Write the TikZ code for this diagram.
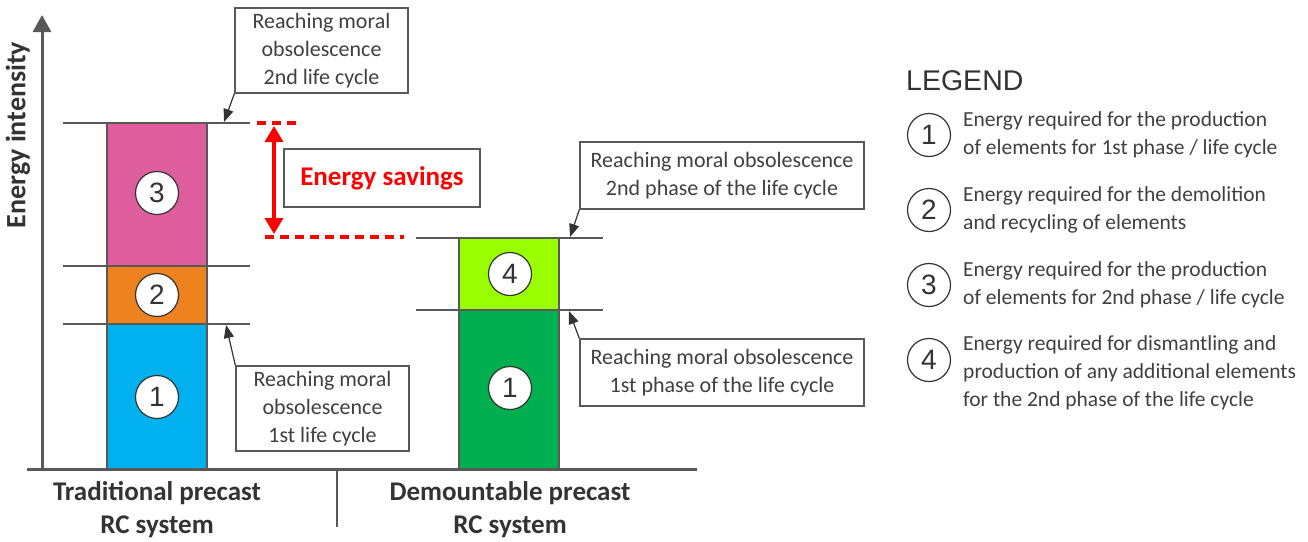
\documentclass[tikz,border=0pt]{standalone}
\usepackage{fontspec}
\setmainfont{Carlito}
\newfontfamily\arialf{Liberation Sans}
\usetikzlibrary{arrows.meta}
\definecolor{txt}{HTML}{404040}
\definecolor{dk}{HTML}{333333}
\definecolor{ln}{HTML}{595959}
\definecolor{pinkc}{HTML}{DE5D9D}
\definecolor{orangec}{HTML}{EE821F}
\definecolor{bluec}{HTML}{00B0EF}
\definecolor{lgreen}{HTML}{99FF00}
\definecolor{dgreen}{HTML}{00B050}
\definecolor{redc}{HTML}{FF0000}
\tikzset{
  num/.style={circle,draw=dk,line width=1.2pt,fill=white,minimum size=43pt,inner sep=0pt,font=\arialf\fontsize{28}{28}\selectfont,text=dk},
  lnum/.style={num,fill=none},
  bar/.style={draw=ln,line width=1.3pt},
  level/.style={draw=ln,line width=1.5pt},
  note/.style={draw=ln,line width=1.3pt,fill=white,align=center,inner sep=0pt,text=txt,font=\fontsize{22}{28}\selectfont},
  callout/.style={draw=dk,line width=1.2pt,-{Triangle[length=13pt,width=10pt]}},
  legtxt/.style={anchor=west,align=left,text=txt,inner sep=0pt,font=\fontsize{21.5}{28}\selectfont},
  cat/.style={align=center,text=dk,font=\bfseries\fontsize{27}{33}\selectfont},
  reddash/.style={draw=redc,line width=3.5pt,dash pattern=on 9pt off 6pt},
}
\begin{document}
\begin{tikzpicture}[x=1pt,y=-1pt]
\useasboundingbox[fill=white] (0,0) rectangle (1308,541);
% axes
\coordinate (yb) at (42,469);
\coordinate (yt) at (42,15);
\coordinate (xl) at (27,469);
\coordinate (xr) at (697,469);
\draw[ln,line width=3pt,-{Triangle[length=17pt,width=18pt]}] (yb) -- (yt);
\draw[ln,line width=3pt] (xl) -- (xr);
\coordinate (d1) at (337,470);
\coordinate (d2) at (337,527);
\draw[ln,line width=1.5pt] (d1) -- (d2);
\node[rotate=90,text=dk,font=\bfseries\fontsize{28}{28}\selectfont] (ylab) at (18,135) {Energy intensity};
% bar 1
\fill[bluec] (107,324) rectangle (207,468);
\fill[orangec] (107,266) rectangle (207,324);
\fill[pinkc] (107,123) rectangle (207,266);
\draw[bar] (107,468) -- (107,123) -- (207,123) -- (207,468);
% bar 2
\fill[dgreen] (459,310) rectangle (559,468);
\fill[lgreen] (459,238) rectangle (559,310);
\draw[bar] (459,468) -- (459,238) -- (559,238) -- (559,468);
% level lines
\draw[level] (63,123) -- (250,123);
\draw[level] (63,266) -- (250,266);
\draw[level] (63,324) -- (250,324);
\draw[level] (416,238) -- (603,238);
\draw[level] (416,310) -- (603,310);
% numbers in bars
\node[num] (c3) at (157,193) {3};
\node[num] (c2) at (157,295) {2};
\node[num] (c1) at (157,397) {1};
\node[num] (c4) at (510,274) {4};
\node[num] (c1b) at (510,388) {1};
% notes
\node[note,minimum width=173pt,minimum height=85pt] (n1) at (321.5,50.5) {Reaching moral\\obsolescence\\2nd life cycle};
\node[note,minimum width=173pt,minimum height=85pt] (n2) at (322.5,408.5) {Reaching moral\\obsolescence\\1st life cycle};
\node[note,minimum width=284pt,minimum height=67pt] (n3) at (722,175.5) {Reaching moral obsolescence\\2nd phase of the life cycle};
\node[note,minimum width=284pt,minimum height=67pt] (n4) at (722,372.5) {Reaching moral obsolescence\\1st phase of the life cycle};
\coordinate (p1) at (224,122);
\coordinate (p2) at (226,325);
\coordinate (p3) at (570,237);
\coordinate (p4) at (569,311);
\draw[callout] (n1.south west) -- (p1);
\draw[callout] (n2.north west) -- (p2);
\draw[callout] (n3.south west) -- (p3);
\draw[callout] (n4.north west) -- (p4);
% energy savings
\coordinate (r1a) at (257,123);
\coordinate (r1b) at (297,123);
\coordinate (r2a) at (265,237);
\coordinate (r2b) at (404,237);
\draw[reddash] (r1a) -- (r1b);
\draw[reddash] (r2a) -- (r2b);
\coordinate (ra) at (274,126);
\coordinate (rb) at (274,234);
\draw[redc,line width=3.5pt,{Triangle[length=16pt,width=18pt]}-{Triangle[length=16pt,width=18pt]}] (ra) -- (rb);
\node[draw=ln,line width=1.3pt,minimum width=196pt,minimum height=58pt,inner sep=0pt,text=redc,font=\bfseries\fontsize{27}{27}\selectfont] (es) at (382,178) {Energy savings};
% categories
\node[cat] (t1) at (157,510) {Traditional precast\\RC system};
\node[cat] (t2) at (510,510) {Demountable precast\\RC system};
% legend
\node[anchor=west,inner sep=0pt,text=dk,font=\arialf\fontsize{28.5}{28.5}\selectfont] (lg) at (906,81) {LEGEND};
\node[lnum] (l1) at (929,135) {1};
\node[lnum] (l2) at (929,210) {2};
\node[lnum] (l3) at (929,285) {3};
\node[lnum] (l4) at (929,360) {4};
\node[legtxt] (lt1) at (963,135) {Energy required for the production\\of elements for 1st phase / life cycle};
\node[legtxt] (lt2) at (963,210) {Energy required for the demolition\\and recycling of elements};
\node[legtxt] (lt3) at (963,285) {Energy required for the production\\of elements for 2nd phase / life cycle};
\node[legtxt] (lt4) at (963,373) {Energy required for dismantling and\\production of any additional elements\\for the 2nd phase of the life cycle};
\end{tikzpicture}
\end{document}
